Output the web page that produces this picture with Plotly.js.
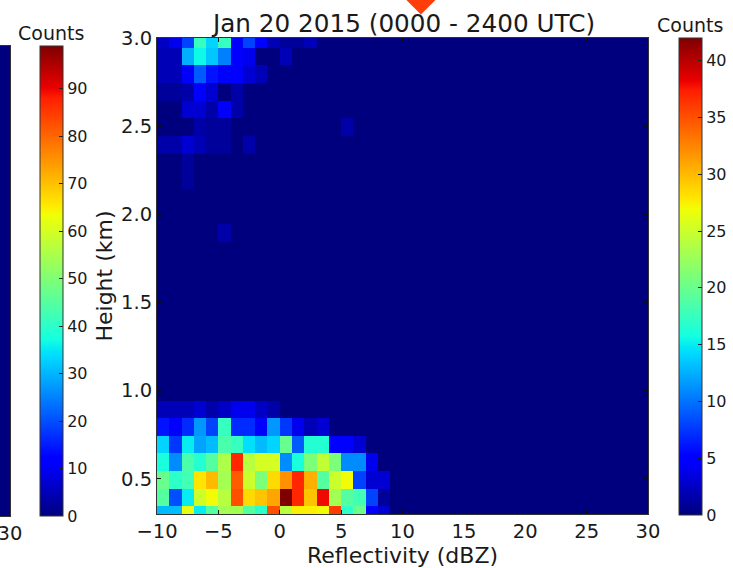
<!DOCTYPE html>
<html><head><meta charset="utf-8">
<script src="https://cdn.plot.ly/plotly-3.0.1.min.js"></script>
<style>html,body{margin:0;padding:0;background:#fff;overflow:hidden}</style></head>
<body><div id="chart" style="width:733px;height:568px"></div>
<script>
var titleText = "Jan 20 2015 (0000 - 2400 UTC)";
var xLabel = "Reflectivity (dBZ)";
var yLabel = "Height (km)";
var colorbarLabel = "Counts";
var xTicks = [-10,-5,0,5,10,15,20,25,30];
var yTicks = [0.5,1.0,1.5,2.0,2.5,3.0];
var mainBarTicks = [0,5,10,15,20,25,30,35,40];
var sideBarTicks = [0,10,20,30,40,50,60,70,80,90];
var reflectivity = [-9.5,-8.5,-7.5,-6.5,-5.5,-4.5,-3.5,-2.5,-1.5,-0.5,0.5,1.5,2.5,3.5,4.5,5.5,6.5,7.5,8.5,9.5,10.5,11.5,12.5,13.5,14.5,15.5,16.5,17.5,18.5,19.5,20.5,21.5,22.5,23.5,24.5,25.5,26.5,27.5,28.5,29.5];
var heights = [0.295,0.395,0.495,0.595,0.695,0.795,0.895,0.995,1.095,1.195,1.295,1.395,1.495,1.595,1.695,1.795,1.895,1.995,2.095,2.195,2.295,2.395,2.495,2.595,2.695,2.795,2.895,2.995];
var row0295 = [13,13,26.5,15,19,23,23,19,17,35,24,27.5,27.5,27,36,17,20,5,3];
var row0395 = [19,8.5,15,25,27,24,35,28.5,29.5,31,42,37,29.5,38,23,19,18,8,1];
var row0495 = [20,17,18,28,30,23,34.5,25,21,28.5,32,37,30.5,19,25,27,8,3,3];
var row0595 = [16,11,18.5,16.5,19,23.5,37,24,25.5,25.5,11,16,21,24.5,21,11,11,4];
var row0695 = [14,7.5,15,12,13,18.5,17.5,14.5,13,14,20,9,16.5,16.5,5,5,3];
var row0795 = [6,4.5,7,11.5,8,17.5,7,7,5,11.5,7.5,4,2,3];
var row0895 = [2,2,2,3,1.5,2.5,4,4,2.5,1.5];
var row1895 = [0,0,0,0,0,1.5];
var row2195 = [0,0,1];
var row2295 = [0,0,1];
var row2395 = [1.5,1.5,3,2,1,1,0,1.5];
var row2495 = [0,0,0,1.5,1,1,0,0,0,0,0,0,0,0,0,1.5];
var row2595 = [0,0,3,3,1.5,4.5,1.5];
var row2695 = [1,1,1.5,5,3,0,1.5];
var row2795 = [2,2,4.5,9,6,5,4.5,3,2];
var row2895 = [2,2,12.5,15.5,13.5,10.5,4.5,4,0,0,2];
var row2995 = [2.5,4,8,17.5,14,17.5,5,8,5,2,1,1,2];
var emptyRow = [];
var rows = [row0295,row0395,row0495,row0595,row0695,row0795,row0895,emptyRow,emptyRow,emptyRow,emptyRow,emptyRow,emptyRow,emptyRow,emptyRow,emptyRow,row1895,emptyRow,emptyRow,row2195,row2295,row2395,row2495,row2595,row2695,row2795,row2895,row2995];
var markerX = [11.5];
var markerY = [3.214];
var mainMax = 42;
var sideMax = 99;

var jet = [[0,'rgb(0,0,127)'],[0.11,'rgb(0,0,255)'],[0.125,'rgb(0,0,255)'],[0.34,'rgb(0,219,255)'],[0.35,'rgb(0,229,246)'],[0.375,'rgb(20,255,226)'],[0.5,'rgb(124,255,121)'],[0.64,'rgb(240,255,7)'],[0.66,'rgb(255,234,0)'],[0.89,'rgb(255,30,0)'],[0.91,'rgb(236,0,0)'],[1,'rgb(127,0,0)']];
var z = rows.map(function(r){ var o = r.slice(); while(o.length < reflectivity.length) o.push(0); return o; });

var W = 733, H = 568, ink = '#1a1a1a', FONT = 'DejaVu Sans, sans-serif';
function px(v){ return v / W; }
function py(v){ return 1 - v / H; }

var traces = [
 {type:'heatmap', x:reflectivity, y:heights, z:z, colorscale:jet, zmin:0, zmax:mainMax, hoverinfo:'skip',
  colorbar:{x:px(679), xanchor:'left', y:py(515), yanchor:'bottom', len:477/H, lenmode:'fraction', thickness:23, thicknessmode:'pixels',
   xpad:0, ypad:0, outlinecolor:'#333', outlinewidth:1, borderwidth:0, ticks:'inside', ticklen:4, tickcolor:'#222',
   tickmode:'array', tickvals:mainBarTicks, ticktext:mainBarTicks.map(String), tickfont:{family:FONT,size:16,color:ink}}},
 {type:'heatmap', x:[29,30], y:[0,1], z:[[0,0],[0,0]], xaxis:'x2', yaxis:'y2', colorscale:jet, zmin:0, zmax:sideMax, hoverinfo:'skip',
  colorbar:{x:px(40), xanchor:'left', y:py(516), yanchor:'bottom', len:470/H, lenmode:'fraction', thickness:23, thicknessmode:'pixels',
   xpad:0, ypad:0, outlinecolor:'#333', outlinewidth:1, borderwidth:0, ticks:'inside', ticklen:4, tickcolor:'#222',
   tickmode:'array', tickvals:sideBarTicks, ticktext:sideBarTicks.map(String), tickfont:{family:FONT,size:16,color:ink}}},
 {type:'scatter', mode:'markers', x:markerX, y:markerY, xaxis:'x3', yaxis:'y3', cliponaxis:false, hoverinfo:'skip', showlegend:false,
  marker:{symbol:'diamond', size:22, color:'#ff3d0a', line:{width:0}}}
];

var hiddenAxis = {visible:false, showgrid:false, zeroline:false, fixedrange:true};
var layout = {
 width:W, height:H, margin:{l:0,r:0,t:0,b:0,autoexpand:false}, paper_bgcolor:'#fff', plot_bgcolor:'rgba(0,0,0,0)', showlegend:false,
 font:{family:FONT,color:ink},
 title:{text:titleText, font:{family:FONT,size:24.7,color:ink}, x:404/W, xanchor:'center', y:py(23), yanchor:'middle'},
 xaxis:{domain:[px(157),px(648)], range:[-10,30], anchor:'y', tickmode:'array', tickvals:xTicks, ticktext:xTicks.map(function(v){return v<0?'\u2212'+(-v):String(v);}),
  ticks:'inside', ticklen:4, tickcolor:'#111', tickfont:{family:FONT,size:19.5,color:ink}, showgrid:false, zeroline:false, showline:true, linecolor:'#333', linewidth:1, mirror:'ticks',
  title:{text:xLabel, font:{family:FONT,size:22,color:ink}, standoff:5}},
 yaxis:{domain:[py(514),py(38)], range:[0.3,3.0], anchor:'x', tickmode:'array', tickvals:yTicks, ticktext:yTicks.map(function(v){return v.toFixed(1);}),
  ticks:'inside', ticklen:4, tickcolor:'#111', tickfont:{family:FONT,size:19.5,color:ink}, showgrid:false, zeroline:false, showline:true, linecolor:'#333', linewidth:1, mirror:'ticks',
  title:{text:yLabel, font:{family:FONT,size:22,color:ink}, standoff:2}},
 xaxis2:{domain:[0,px(10)], range:[29,30], anchor:'y2', tickmode:'array', tickvals:[30], ticktext:['30'], ticks:'', ticklabeloverflow:'allow', tickfont:{family:FONT,size:19.5,color:ink}, showgrid:false, zeroline:false, showline:true, linecolor:'#333', linewidth:1, mirror:true, fixedrange:true},
 yaxis2:{domain:[py(516),py(46)], range:[0,1], anchor:'x2', showticklabels:false, ticks:'', showgrid:false, zeroline:false, showline:true, linecolor:'#333', linewidth:1, mirror:true, fixedrange:true},
 xaxis3:Object.assign({domain:[0,1], range:[-22.79,36.92], anchor:'y3'}, hiddenAxis),
 yaxis3:Object.assign({domain:[0,1], range:[0,3.2155], anchor:'x3'}, hiddenAxis),
 annotations:[
  {text:colorbarLabel, xref:'paper', yref:'paper', x:px(51), y:py(33), xanchor:'center', yanchor:'middle', showarrow:false, font:{family:FONT,size:19,color:ink}},
  {text:colorbarLabel, xref:'paper', yref:'paper', x:px(690), y:py(25), xanchor:'center', yanchor:'middle', showarrow:false, font:{family:FONT,size:19,color:ink}}
 ]
};
Plotly.newPlot('chart', traces, layout, {displayModeBar:false, staticPlot:true});
</script></body></html>
